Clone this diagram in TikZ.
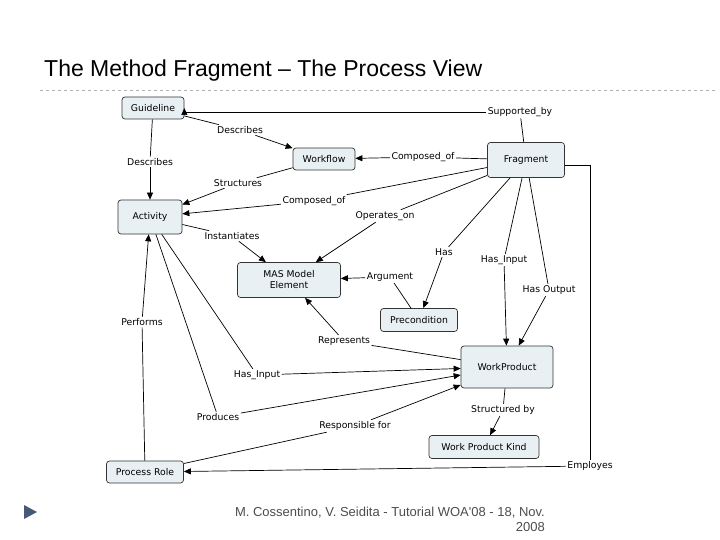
\documentclass[tikz,border=0pt]{standalone}
\usepackage{fontspec}
\setmainfont{DejaVu Sans}
\newfontfamily\arialf{Liberation Sans}
\usetikzlibrary{arrows.meta}
\definecolor{boxfill}{RGB}{232,240,244}
\definecolor{tri}{RGB}{70,90,120}
\begin{document}
\begin{tikzpicture}[x=1pt,y=-1pt,
  box/.style={draw=black!80,fill=boxfill,rounded corners=3pt,font=\fontsize{9.3}{11}\selectfont,align=center,line width=0.7pt},
  lab/.style={font=\fontsize{9.3}{11}\selectfont,inner sep=1.5pt,fill=white},
  ln/.style={line width=0.7pt},
  ar/.style={line width=0.7pt,-{Triangle[length=7pt,width=6pt]}}]
\useasboundingbox (0,0) rectangle (720,540);
\node[font=\arialf\fontsize{23}{26}\selectfont,anchor=west,inner sep=0pt] (title) at (44,71) {The Method Fragment – The Process View};
\draw[gray!60,dashed] (40,90) -- (715,90);
\fill[tri] (24,505) -- (37,512) -- (24,519) -- cycle;
\node[font=\arialf\fontsize{13}{15}\selectfont,gray!60!black,align=right,anchor=north east,inner sep=0pt] (foot) at (545,507) {M. Cossentino, V. Seidita - Tutorial WOA'08 - 18, Nov.\\2008};

\node[box,minimum width=62pt,minimum height=22pt] (gl) at (153,108) {Guideline};
\node[box,minimum width=62pt,minimum height=22pt] (wf) at (324,159) {Workflow};
\node[box,minimum width=77pt,minimum height=35pt] (fr) at (526,160) {Fragment};
\node[box,minimum width=64pt,minimum height=34pt] (ac) at (150,217) {Activity};
\node[box,minimum width=103pt,minimum height=35pt] (mas) at (289,280) {MAS Model\\Element};
\node[box,minimum width=77pt,minimum height=23pt] (pre) at (419,320) {Precondition};
\node[box,minimum width=92pt,minimum height=42pt] (wp) at (507,367) {WorkProduct};
\node[box,minimum width=110pt,minimum height=23pt] (wpk) at (484,447) {Work Product Kind};
\node[box,minimum width=77pt,minimum height=22pt] (pr) at (145,472) {Process Role};

\node[lab] (l1) at (520,112) {Supported\_by};
\node[lab] (l2) at (240,130) {Describes};
\node[lab] (l3) at (150,162) {Describes};
\node[lab] (l4) at (423,157) {Composed\_of};
\node[lab] (l5) at (238,183) {Structures};
\node[lab] (l6) at (314,201) {Composed\_of};
\node[lab] (l7) at (385,216) {Operates\_on};
\node[lab] (l8) at (232,236) {Instantiates};
\node[lab] (l9) at (444,252) {Has};
\node[lab] (l10) at (504,260) {Has\_Input};
\node[lab] (l11) at (390,277) {Argument};
\node[lab] (l12) at (549,290) {Has Output};
\node[lab] (l13) at (142,322) {Performs};
\node[lab] (l14) at (344,341) {Represents};
\node[lab] (l15) at (257,375) {Has\_Input};
\node[lab] (l16) at (218,417) {Produces};
\node[lab] (l17) at (355,426) {Responsible for};
\node[lab] (l18) at (503,410) {Structured by};
\node[lab] (l19) at (590,466) {Employes};
\coordinate (c1) at (590,165);

\draw[ln] (fr) -- (l1); \draw[ar] (l1.west) -- (gl.east |- l1.west) -- (gl.east);
\draw[ln] (gl) -- (l2); \draw[ar] (l2) -- (wf);
\draw[ln] (gl) -- (l3); \draw[ar] (l3) -- (ac);
\draw[ln] (fr) -- (l4); \draw[ar] (l4) -- (wf);
\draw[ln] (wf) -- (l5); \draw[ar] (l5) -- (ac);
\draw[ln] (fr) -- (l6); \draw[ar] (l6) -- (ac);
\draw[ln] (fr) -- (l7); \draw[ar] (l7) -- (mas);
\draw[ln] (ac) -- (l8); \draw[ar] (l8) -- (mas);
\draw[ln] (fr) -- (l9); \draw[ar] (l9) -- (pre);
\draw[ln] (fr) -- (l10); \draw[ar] (l10) -- (wp);
\draw[ln] (fr) -- (l12); \draw[ar] (l12) -- (wp);
\draw[ln] (pre) -- (l11); \draw[ar] (l11) -- (mas);
\draw[ln] (wp) -- (l14); \draw[ar] (l14) -- (mas);
\draw[ln] (ac) -- (l15); \draw[ar] (l15) -- (wp);
\draw[ln] (ac) -- (l16); \draw[ar] (l16) -- (wp);
\draw[ln] (pr) -- (l13); \draw[ar] (l13) -- (ac);
\draw[ln] (pr) -- (l17); \draw[ar] (l17) -- (wp);
\draw[ln] (wp) -- (l18); \draw[ar] (l18) -- (wpk);
\draw[ln] (fr.east |- c1) -- (c1) -- (l19); \draw[ar] (l19) -- (pr);
\end{tikzpicture}
\end{document}
